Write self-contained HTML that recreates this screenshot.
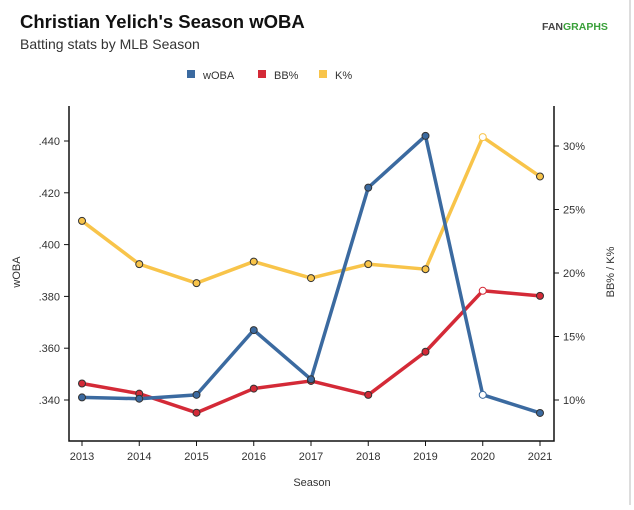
<!DOCTYPE html>
<html><head><meta charset="utf-8"><style>
body{margin:0;background:#fff;font-family:"Liberation Sans",sans-serif}
svg text{font-family:"Liberation Sans",sans-serif}
</style></head><body>
<svg width="634" height="505">
<line x1="630" y1="0" x2="630" y2="505" stroke="#ddd" stroke-width="2"/>
<text x="20" y="28" font-size="18.5" font-weight="bold" fill="#111">Christian Yelich's Season wOBA</text>
<text x="20" y="49" font-size="14" fill="#333">Batting stats by MLB Season</text>
<text x="542" y="30" font-size="10.5" font-weight="bold" fill="#3aa03a"><tspan fill="#444">FAN</tspan>GRAPHS</text>
<g id="legend">
<g><rect x="187" y="70" width="8" height="8" fill="#3b6aa0"/><text x="203" y="79" font-size="11" fill="#333">wOBA</text></g>
<g><rect x="258" y="70" width="8" height="8" fill="#d42a37"/><text x="274" y="79" font-size="11" fill="#333">BB%</text></g>
<g><rect x="319" y="70" width="8" height="8" fill="#f8c44a"/><text x="335" y="79" font-size="11" fill="#333">K%</text></g>
</g>
<g id="axes"></g>
<g id="marks"></g>
<text x="312" y="486" font-size="11" fill="#333" text-anchor="middle">Season</text>
<text transform="translate(20,272) rotate(-90)" font-size="11" fill="#333" text-anchor="middle">wOBA</text>
<text transform="translate(614,272) rotate(-90)" font-size="11" fill="#333" text-anchor="middle">BB% / K%</text>
</svg>
<script>
const seasons=[2013,2014,2015,2016,2017,2018,2019,2020,2021];
const woba=[0.341,0.3405,0.342,0.367,0.348,0.422,0.442,0.342,0.335];
const bb=[11.3,10.5,9.0,10.9,11.5,10.4,13.8,18.6,18.2];
const kp=[24.1,20.7,19.2,20.9,19.6,20.7,20.3,30.7,27.6];
const leftTicks=[0.340,0.360,0.380,0.400,0.420,0.440];
const rightTicks=[10,15,20,25,30];
const hollow=[2020];
const NS="http://www.w3.org/2000/svg";
const xS=i=>82+i*57.25;
const yL=v=>400-(v-0.340)/0.1*259;
const yR=v=>400-(v-10)/20*254;
function mk(tag,attrs,parent){const e=document.createElementNS(NS,tag);for(const k in attrs)e.setAttribute(k,attrs[k]);parent.appendChild(e);return e;}
const ax=document.getElementById('axes'),mg=document.getElementById('marks');
let e=mk('path',{d:'M69 106 V441 H554 V106',fill:'none',stroke:'#111','stroke-width':1.5},ax);


leftTicks.forEach(t=>{const y=yL(t);
 let l=mk('line',{x1:64,x2:69,y1:y,y2:y,stroke:'#111'},ax);
 
 
 let tx=mk('text',{x:60,y:y+4,'font-size':11,fill:'#333','text-anchor':'end'},ax);tx.textContent=t.toFixed(3).slice(1);
 
 });
rightTicks.forEach(t=>{const y=yR(t);
 let l=mk('line',{x1:554,x2:559,y1:y,y2:y,stroke:'#111'},ax);
 
 
 let tx=mk('text',{x:563,y:y+4,'font-size':11,fill:'#333'},ax);tx.textContent=t+'%';
 
 });
seasons.forEach((s,i)=>{const x=xS(i);
 let l=mk('line',{x1:x,x2:x,y1:441,y2:446,stroke:'#111'},ax);
 
 
 let tx=mk('text',{x:x,y:460,'font-size':11,fill:'#333','text-anchor':'middle'},ax);tx.textContent=s;
 
 });
function series(vals,yf,col,name){
 const p=mk('polyline',{points:vals.map((v,i)=>xS(i)+','+yf(v)).join(' '),fill:'none',stroke:col,'stroke-width':3.5,'stroke-linejoin':'round'},mg);
 
 
 vals.forEach((v,i)=>{const c=mk('circle',{cx:xS(i),cy:yf(v),r:3.5,fill:hollow.includes(seasons[i])?'#fff':col,stroke:hollow.includes(seasons[i])?col:'#333','stroke-width':1},mg);
  
  });
}
series(kp,yR,'#f8c44a','k-pct');
series(bb,yR,'#d42a37','bb-pct');
series(woba,yL,'#3b6aa0','woba');
</script>
</body></html>
